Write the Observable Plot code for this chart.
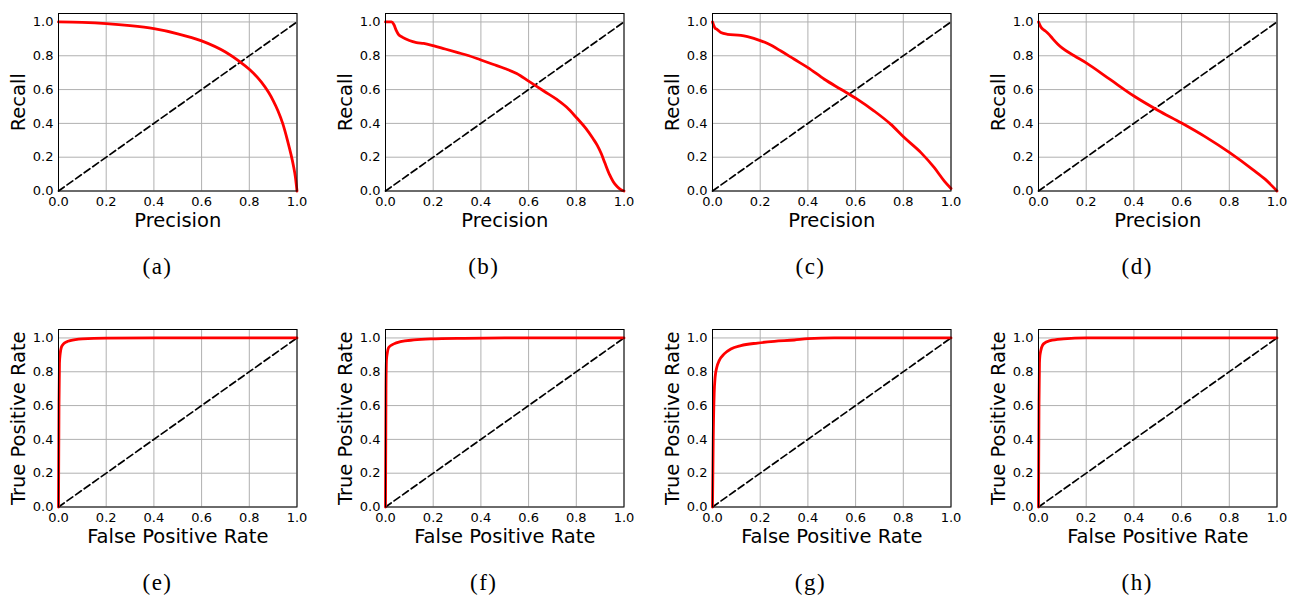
<!DOCTYPE html>
<html><head><meta charset="utf-8">
<script src="https://cdn.jsdelivr.net/npm/d3@7"></script>
<script src="https://cdn.jsdelivr.net/npm/@observablehq/plot@0.6"></script>
<style>
body{margin:0;background:#fff;}
#fig{position:relative;width:1293px;height:600px;overflow:hidden;background:#fff;}
#fig svg{position:absolute;}
.cap{position:absolute;font-family:"Liberation Serif","DejaVu Serif",serif;font-size:23px;line-height:23px;letter-spacing:1.5px;transform:translate(-50%,-50%);white-space:nowrap;color:#000;}
</style></head><body><div id="fig"></div>
<script>
// ---- data ----
const tickValues = [0, 0.2, 0.4, 0.6, 0.8, 1.0];
const diagX = [0, 1];
const diagY = [0, 1];
const captions = ["(a)", "(b)", "(c)", "(d)", "(e)", "(f)", "(g)", "(h)"];
const prLabelX = "Precision", prLabelY = "Recall";
const rocLabelX = "False Positive Rate", rocLabelY = "True Positive Rate";

// (a)
const precisionA = [0, 0.1, 0.2, 0.3, 0.4, 0.5, 0.6, 0.7, 0.76, 0.8, 0.85, 0.88, 0.9, 0.92, 0.94, 0.96, 0.975, 0.985, 0.993, 1.0];
const recallA    = [1.0, 0.997, 0.99, 0.978, 0.96, 0.93, 0.888, 0.822, 0.765, 0.72, 0.645, 0.585, 0.535, 0.475, 0.4, 0.3, 0.215, 0.15, 0.085, 0.0];
// (b)
const precisionB = [0, 0.025, 0.035, 0.045, 0.055, 0.07, 0.1, 0.13, 0.16, 0.2, 0.25, 0.3, 0.35, 0.4, 0.45, 0.5, 0.55, 0.6, 0.665, 0.72, 0.76, 0.8, 0.84, 0.87, 0.888, 0.905, 0.92, 0.94, 0.955, 0.972, 0.985, 1.0];
const recallB    = [1.0, 1.0, 0.985, 0.95, 0.925, 0.91, 0.89, 0.878, 0.873, 0.86, 0.84, 0.82, 0.8, 0.775, 0.75, 0.725, 0.695, 0.65, 0.59, 0.54, 0.495, 0.435, 0.37, 0.31, 0.27, 0.22, 0.165, 0.095, 0.055, 0.025, 0.01, 0.0];
// (c)
const precisionC = [0, 0.005, 0.01, 0.02, 0.035, 0.063, 0.119, 0.147, 0.203, 0.231, 0.287, 0.343, 0.4, 0.469, 0.538, 0.608, 0.678, 0.748, 0.804, 0.874, 0.93, 0.972, 1.0];
const recallC    = [1.0, 0.98, 0.965, 0.955, 0.937, 0.927, 0.921, 0.913, 0.888, 0.872, 0.828, 0.779, 0.73, 0.661, 0.602, 0.542, 0.473, 0.394, 0.316, 0.227, 0.138, 0.059, 0.015];
// (d)
const precisionD = [0, 0.005, 0.01, 0.02, 0.03, 0.045, 0.06, 0.08, 0.1, 0.15, 0.2, 0.3, 0.4, 0.5, 0.6, 0.7, 0.8, 0.9, 0.95, 1.0];
const recallD    = [1.0, 0.985, 0.97, 0.955, 0.945, 0.925, 0.9, 0.87, 0.845, 0.8, 0.758, 0.66, 0.562, 0.478, 0.402, 0.32, 0.228, 0.125, 0.07, 0.0];
// (e)
const fprE = [0, 0.002, 0.004, 0.007, 0.012, 0.021, 0.035, 0.049, 0.1, 0.2, 0.4, 1.0];
const tprE = [0, 0.6, 0.85, 0.906, 0.945, 0.965, 0.978, 0.984, 0.994, 0.999, 1.0, 1.0];
// (f)
const fprF = [0, 0.002, 0.004, 0.007, 0.014, 0.035, 0.063, 0.119, 0.189, 0.33, 0.5, 1.0];
const tprF = [0, 0.7, 0.87, 0.906, 0.945, 0.965, 0.978, 0.988, 0.994, 0.998, 1.0, 1.0];
// (g)
const fprG = [0, 0.003, 0.007, 0.011, 0.018, 0.028, 0.049, 0.077, 0.119, 0.189, 0.259, 0.343, 0.4, 0.51, 1.0];
const tprG = [0, 0.4, 0.67, 0.768, 0.827, 0.866, 0.906, 0.935, 0.955, 0.97, 0.98, 0.988, 0.996, 1.0, 1.0];
// (h)
const fprH = [0, 0.002, 0.004, 0.007, 0.021, 0.049, 0.105, 0.2, 1.0];
const tprH = [0, 0.6, 0.85, 0.906, 0.965, 0.984, 0.994, 1.0, 1.0];

// ---- layout ----
const frameLefts = [58.3, 384.5, 711.6, 1038.2];
const rowTops = [12.5, 329];
const FW = 238.5, FH = 177.5;
const mL = 62, mT = 6, mR = 22, mB = 52;
const capX = [157.5, 483.8, 810.5, 1137.2];
const capY = [265.7, 582.2];

const panels = [
  {x: precisionA, y: recallA, lx: prLabelX, ly: prLabelY},
  {x: precisionB, y: recallB, lx: prLabelX, ly: prLabelY},
  {x: precisionC, y: recallC, lx: prLabelX, ly: prLabelY},
  {x: precisionD, y: recallD, lx: prLabelX, ly: prLabelY},
  {x: fprE, y: tprE, lx: rocLabelX, ly: rocLabelY},
  {x: fprF, y: tprF, lx: rocLabelX, ly: rocLabelY},
  {x: fprG, y: tprG, lx: rocLabelX, ly: rocLabelY},
  {x: fprH, y: tprH, lx: rocLabelX, ly: rocLabelY}
];

const fig = document.getElementById("fig");
panels.forEach((p, i) => {
  const col = i % 4, row = Math.floor(i / 4);
  const curve = p.x.map((v, k) => ({x: v, y: p.y[k]}));
  const diag = diagX.map((v, k) => ({x: v, y: diagY[k]}));
  const svg = Plot.plot({
    width: mL + FW + mR,
    height: mT + FH + mB,
    marginLeft: mL, marginRight: mR, marginTop: mT, marginBottom: mB,
    style: {fontFamily: "DejaVu Sans", fontSize: "13px", background: "transparent", color: "#000", overflow: "visible"},
    x: {domain: [0, 1], axis: null},
    y: {domain: [0, 1.05], axis: null},
    marks: [
      Plot.gridX(tickValues, {stroke: "#b0b0b0", strokeOpacity: 1, strokeWidth: 1}),
      Plot.gridY(tickValues, {stroke: "#b0b0b0", strokeOpacity: 1, strokeWidth: 1}),
      Plot.line(diag, {x: "x", y: "y", stroke: "#000", strokeWidth: 1.7, strokeDasharray: "7,3.5"}),
      Plot.line(curve, {x: "x", y: "y", stroke: "#ff0000", strokeWidth: 2.8, curve: "monotone-x"}),
      Plot.frame({stroke: "#000", strokeWidth: 1}),
      Plot.axisX(tickValues, {tickSize: 0, tickPadding: 6, tickFormat: d => d.toFixed(1), fontSize: 13, label: null}),
      Plot.axisY(tickValues, {tickSize: 0, tickPadding: 5, tickFormat: d => d.toFixed(1), fontSize: 13, label: null}),
      Plot.text([p.lx], {frameAnchor: "bottom", dy: 29.5, fontSize: 19.5, lineAnchor: "middle", textAnchor: "middle"}),
      Plot.text([p.ly], {frameAnchor: "left", dx: -39.5, rotate: -90, fontSize: 19.5, lineAnchor: "middle", textAnchor: "middle"})
    ]
  });
  svg.style.left = (frameLefts[col] - mL) + "px";
  svg.style.top = (rowTops[row] - mT) + "px";
  fig.appendChild(svg);
  const cap = document.createElement("div");
  cap.className = "cap";
  cap.textContent = captions[i];
  cap.style.left = capX[col] + "px";
  cap.style.top = capY[row] + "px";
  fig.appendChild(cap);
});
</script>
</body></html>
